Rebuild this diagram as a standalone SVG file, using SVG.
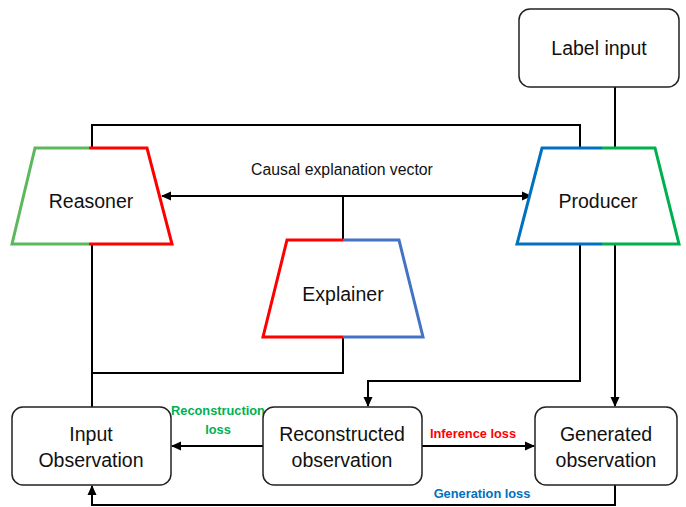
<svg xmlns="http://www.w3.org/2000/svg" width="686" height="507" viewBox="0 0 686 507">
<defs>
<marker id="ah" markerWidth="10" markerHeight="10" refX="9" refY="5" orient="auto" markerUnits="userSpaceOnUse">
<path d="M0,0.5 L10,5 L0,9.5 Z" fill="#000"/>
</marker>
</defs>
<style>
text{font-family:"Liberation Sans",Arial,sans-serif;fill:#111;text-anchor:middle}
.lbl{font-size:19.5px}
.loss{font-size:12.8px;font-weight:bold}
.box{fill:#fff;stroke:#222;stroke-width:1.5}
.tr{fill:none;stroke-width:3;stroke-linejoin:miter}
.c{fill:none;stroke:#000;stroke-width:2}
</style>
<rect width="686" height="507" fill="#fff"/>
<g id="connectors">
<polyline class="c" points="92,148 92,125 580,125 580,148"/>
<line class="c" x1="343" y1="196" x2="162" y2="196" marker-end="url(#ah)"/>
<line class="c" x1="343" y1="196" x2="531" y2="196" marker-end="url(#ah)"/>
<line class="c" x1="343" y1="196" x2="343" y2="240"/>
<line class="c" x1="615" y1="87" x2="615" y2="148"/>
<line class="c" x1="92" y1="244" x2="92" y2="407"/>
<polyline class="c" points="343,337 343,373 92,373"/>
<polyline class="c" points="580,244 580,381 368,381 368,406" marker-end="url(#ah)"/>
<line class="c" x1="615" y1="244" x2="615" y2="406" marker-end="url(#ah)"/>
<line class="c" x1="263" y1="446" x2="172" y2="446" marker-end="url(#ah)"/>
<line class="c" x1="422" y1="446" x2="534" y2="446" marker-end="url(#ah)"/>
<polyline class="c" points="615,485 615,505 92,505 92,486" marker-end="url(#ah)"/>
<text class="loss" x="218" y="415" style="fill:#00b050">Reconstruction</text>
<text class="loss" x="218" y="434" style="fill:#00b050">loss</text>
<text class="loss" x="473" y="438" style="fill:#ff0000">Inference loss</text>
<text class="loss" x="482" y="498" style="fill:#0070c0">Generation loss</text>
<text x="342" y="175" style="font-size:15.8px">Causal explanation vector</text>
</g>
<g id="reasoner">
<polygon points="35,148 147,148 172,244 12,244" fill="#fff"/>
<polyline class="tr" stroke="#5cb85c" points="89,148 35,148 12,244 89,244"/>
<polyline class="tr" stroke="#ff0000" points="89,148 147,148 172,244 89,244"/>
<text class="lbl" x="91" y="208">Reasoner</text>
</g>
<g id="producer">
<polygon points="542,148 655,148 679,244 517,244" fill="#fff"/>
<polyline class="tr" stroke="#0070c0" points="602,148 542,148 517,244 602,244"/>
<polyline class="tr" stroke="#00b050" points="602,148 655,148 679,244 602,244"/>
<text class="lbl" x="598" y="208">Producer</text>
</g>
<g id="explainer">
<polygon points="287,240 399,240 423,337 263,337" fill="#fff"/>
<polyline class="tr" stroke="#ff0000" points="343,240 287,240 263,337 343,337"/>
<polyline class="tr" stroke="#4472c4" points="343,240 399,240 423,337 343,337"/>
<text class="lbl" x="343" y="301">Explainer</text>
</g>
<g id="label-input">
<rect class="box" x="519" y="9" width="160" height="78" rx="11"/>
<text class="lbl" x="599" y="55">Label input</text>
</g>
<g id="input-observation">
<rect class="box" x="12" y="407" width="159" height="78" rx="11"/>
<text class="lbl" x="91" y="441">Input</text>
<text class="lbl" x="91" y="467">Observation</text>
</g>
<g id="reconstructed-observation">
<rect class="box" x="263" y="407" width="159" height="78" rx="11"/>
<text class="lbl" x="342" y="441">Reconstructed</text>
<text class="lbl" x="342" y="467">observation</text>
</g>
<g id="generated-observation">
<rect class="box" x="535" y="407" width="142" height="78" rx="11"/>
<text class="lbl" x="606" y="441">Generated</text>
<text class="lbl" x="606" y="467">observation</text>
</g>
</svg>
